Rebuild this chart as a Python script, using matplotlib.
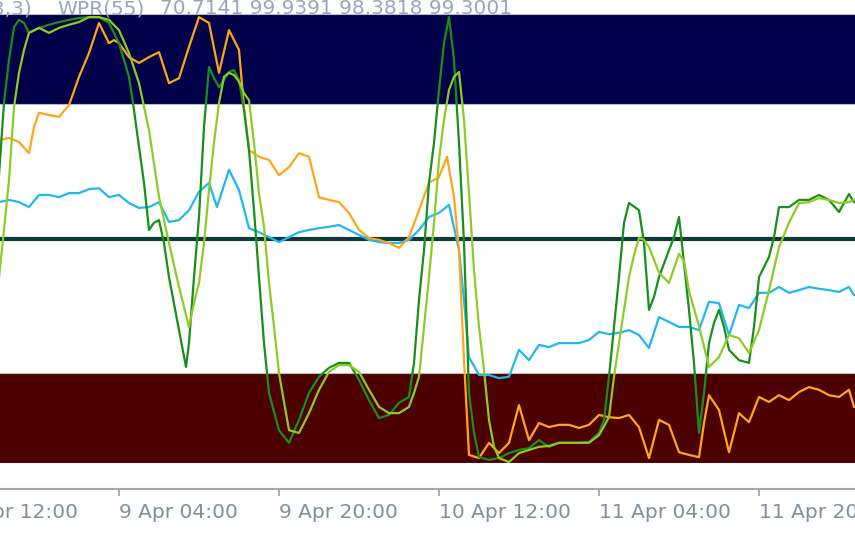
import matplotlib
matplotlib.use("Agg")
import matplotlib.pyplot as plt

# hours since 8 Apr 16:00 and indicator values (0..100)
orange_t = [0, 1, 2, 3, 3.5, 4, 5, 6, 7, 8, 9, 10, 11, 11.5, 12, 13, 14, 15, 16, 17, 18, 19, 20, 21, 21.5, 22,
            23, 24, 24.5, 25, 26, 27, 28, 29, 30, 31, 32, 33, 34, 35, 36, 37, 38, 39, 40, 41, 42, 43, 44, 44.8,
            45.5, 46, 46.5, 47, 48, 49, 50, 51, 52, 53, 54, 55, 56, 57, 58, 59, 60, 61, 62, 63, 64, 65, 66, 67,
            68, 69, 70, 70.5, 71, 72, 73, 74, 75, 76, 77, 78, 79, 80, 81, 82, 83, 84, 85, 85.5]
orange_v = [71.9, 72.4, 71.5, 69.0, 74.8, 78.0, 77.5, 77.1, 79.7, 86.0, 91.3, 98.0, 93.5, 94.2, 93.5, 90.4, 89.1,
            90.4, 91.5, 84.6, 85.7, 92.7, 99.3, 98.0, 92.4, 86.9, 96.4, 92.0, 79.3, 69.7, 68.2, 67.5, 64.1, 65.9,
            69.0, 68.2, 59.2, 58.6, 58.1, 55.7, 51.9, 50.1, 49.7, 49.0, 47.9, 50.3, 56.3, 62.4, 63.7, 68.2, 59.2,
            47.4, 22.9, 1.8, 1.1, 4.5, 2.2, 4.5, 12.9, 5.1, 8.9, 8.0, 8.5, 8.5, 7.8, 8.5, 10.7, 10.2, 10.0, 10.7,
            8.0, 1.1, 9.6, 8.5, 2.4, 1.8, 1.3, 8.9, 15.1, 11.8, 2.4, 11.1, 9.1, 14.7, 13.6, 15.1, 14.0, 15.8,
            16.9, 16.3, 15.1, 14.7, 16.3, 12.5]

blue_t = [0, 1, 2, 3, 4, 5, 6, 7, 8, 9, 10, 11, 12, 13, 14, 15, 16, 17, 18, 19, 20, 21, 21.8, 23, 24, 25, 26,
          27, 28, 29, 30, 31, 32, 33, 34, 35, 36, 37, 38, 39, 40, 41, 42, 43, 44, 45, 46, 46.5, 47, 48, 49, 50,
          51, 52, 53, 54, 55, 56, 57, 58, 59, 60, 61, 62, 63, 64, 65, 66, 67, 68, 69, 70, 71, 72, 73, 74, 75,
          76, 77, 78, 79, 80, 81, 82, 83, 84, 85, 85.5]
blue_v = [58.1, 58.6, 58.1, 57.0, 59.7, 59.7, 59.2, 60.1, 60.1, 61.0, 61.2, 59.2, 59.7, 57.9, 56.8, 57.0, 58.1,
          53.7, 54.1, 56.3, 60.4, 62.4, 57.0, 65.3, 60.8, 52.3, 51.4, 50.3, 49.2, 50.3, 51.4, 51.9, 52.3, 52.6,
          53.0, 51.9, 50.8, 49.7, 49.2, 49.0, 49.0, 49.7, 51.9, 54.8, 55.7, 57.5, 47.4, 36.3, 23.6, 19.6, 19.6,
          18.9, 19.2, 25.2, 22.9, 26.3, 25.8, 26.7, 26.7, 26.7, 27.4, 29.2, 28.7, 29.0, 29.6, 28.5, 25.6, 32.5,
          31.4, 30.3, 30.3, 29.6, 35.9, 35.6, 28.5, 35.2, 34.5, 37.9, 37.9, 39.2, 37.9, 38.5, 39.2, 38.8, 38.5,
          38.1, 39.2, 37.4]

dgreen_t = [0, 0.5, 1, 1.5, 2, 2.5, 3, 4, 5, 6, 7, 8, 9, 10, 11, 12, 13, 13.5, 14, 14.5, 15, 15.5, 16, 16.5,
            17, 18, 18.7, 19, 19.5, 20, 20.5, 21, 21.5, 22, 23, 23.5, 24, 24.5, 25, 25.5, 26, 26.5, 27, 28, 29,
            30, 31, 32, 33, 34, 35, 36, 37, 38, 39, 40, 41, 41.5, 42, 42.5, 43, 43.5, 44, 44.5, 45, 45.5, 46,
            46.5, 47, 47.5, 48, 49, 50, 51, 52, 53, 54, 55, 56, 57, 58, 59, 60, 60.5, 61, 61.5, 62, 62.5, 63,
            64, 64.5, 65, 65.5, 66, 67, 67.5, 68, 68.5, 69, 69.5, 70, 70.5, 71, 71.5, 72, 72.5, 73, 74, 75,
            75.5, 76, 77, 77.5, 78, 79, 80, 81, 82, 83, 84, 85, 85.5]
dgreen_v = [64.1, 80.2, 89.8, 97.1, 98.7, 98.0, 95.8, 96.9, 97.6, 98.2, 98.7, 99.1, 99.3, 99.3, 98.0, 93.5,
            86.0, 78.6, 70.4, 62.4, 51.9, 53.5, 54.1, 49.0, 41.4, 29.6, 21.4, 26.7, 41.4, 54.8, 74.8, 88.2,
            85.7, 83.7, 87.1, 87.5, 85.3, 78.6, 69.7, 56.3, 41.4, 26.7, 15.6, 7.3, 4.5, 9.6, 15.6, 19.2, 21.2,
            22.3, 22.3, 18.5, 14.0, 10.0, 10.7, 13.4, 14.7, 22.3, 36.3, 47.4, 62.4, 71.3, 83.1, 93.5, 99.3,
            89.8, 71.3, 49.0, 15.6, 6.7, 1.3, 0.7, 1.1, 2.2, 2.9, 3.3, 5.1, 3.6, 4.5, 4.5, 4.5, 4.7, 6.7, 9.6,
            19.2, 30.3, 41.4, 53.5, 57.9, 56.3, 49.0, 34.1, 37.0, 41.4, 47.4, 50.3, 54.8, 44.5, 34.1, 22.3,
            6.7, 15.6, 26.7, 31.2, 34.1, 30.3, 25.2, 22.9, 22.3, 30.3, 41.4, 45.9, 50.3, 57.0, 57.0, 58.6,
            58.6, 59.7, 58.6, 55.9, 59.9, 58.1]

lgreen_t = [0, 0.5, 1, 1.5, 2, 2.5, 3, 4, 5, 6, 7, 8, 9, 10, 11, 12, 13, 14, 15, 16, 17, 18, 19, 19.5, 20,
            20.5, 21, 21.5, 22, 22.5, 23, 23.5, 24, 24.5, 25, 25.5, 26, 26.5, 27, 27.5, 28, 29, 30, 31, 32, 33,
            34, 35, 36, 37, 38, 39, 40, 41, 41.5, 42, 42.5, 43, 43.5, 44, 44.5, 45, 45.5, 46, 46.5, 47, 47.5,
            48, 48.5, 49, 49.5, 50, 51, 52, 53, 54, 55, 56, 57, 58, 59, 60, 61, 61.5, 62, 63, 63.5, 64, 64.5,
            65, 66, 67, 68, 68.5, 69, 70, 71, 72, 73, 74, 75, 76, 77, 78, 79, 80, 81, 82, 83, 84, 85, 85.5]
lgreen_v = [41.4, 51.9, 63.0, 79.3, 86.9, 92.0, 95.8, 96.9, 95.8, 96.9, 97.6, 98.2, 99.3, 99.3, 98.7, 96.4,
            91.3, 84.6, 74.2, 59.2, 49.0, 39.2, 30.3, 35.6, 40.1, 49.0, 60.8, 71.3, 80.2, 86.0, 86.9, 86.4,
            84.9, 82.4, 80.8, 71.3, 60.1, 52.6, 40.1, 30.3, 20.0, 7.3, 6.7, 11.1, 16.3, 20.3, 21.8, 21.8, 20.3,
            16.3, 12.5, 11.1, 11.1, 12.5, 15.6, 19.2, 30.3, 41.4, 53.5, 67.5, 76.4, 83.1, 86.0, 87.1, 76.4,
            60.1, 43.0, 30.3, 20.7, 9.6, 3.6, 1.1, 0.2, 2.2, 2.9, 3.6, 3.8, 4.5, 4.5, 4.5, 4.5, 6.2, 10.2,
            19.2, 26.7, 41.4, 46.3, 50.1, 49.7, 48.1, 42.4, 40.1, 46.6, 45.0, 38.3, 30.5, 21.4, 23.6, 28.5,
            27.8, 24.5, 29.6, 38.5, 48.1, 53.5, 57.9, 58.1, 59.0, 58.6, 57.9, 58.1, 58.6]

tick_pos = [-4, 12, 28, 44, 60, 76]
tick_lbl = ["8 Apr 12:00", "9 Apr 04:00", "9 Apr 20:00", "10 Apr 12:00", "11 Apr 04:00", "11 Apr 20:00"]

fig = plt.figure(figsize=(8.55, 5.34), dpi=100)
ax = fig.add_axes([0, 1 - 463 / 534, 1, 449 / 534])
ax.set_xlim(0.1, 85.6)
ax.set_ylim(0, 100)

# overbought / oversold zones and middle level
ax.axhspan(80, 100, color="#00004a", lw=0)
ax.axhspan(0, 20, color="#4c0000", lw=0)
ax.axhline(50, color="#0f3a3a", lw=3)
for lvl in (100, 80, 20, 0):
    ax.axhline(lvl, color="#b8b8c8", lw=0.8)

ax.plot(blue_t, blue_v, color="#1fb8f0", lw=1.6)
ax.plot(orange_t, orange_v, color="#ffa51c", lw=1.6)
ax.plot(dgreen_t, dgreen_v, color="#17901a", lw=1.6)
ax.plot(lgreen_t, lgreen_v, color="#8fcb24", lw=1.6)

for s in ("left", "right", "top"):
    ax.spines[s].set_visible(False)
ax.spines["bottom"].set_position(("outward", 19))
ax.spines["bottom"].set_color("#a8a8a8")
ax.spines["bottom"].set_linewidth(1.5)
ax.set_yticks([])
ax.set_xticks(tick_pos[1:])
ax.set_xticklabels([])
ax.tick_params(axis="x", direction="out", length=5, width=1.3, color="#a8a8a8")

for p, lbl in zip(tick_pos, tick_lbl):
    ax.text(p, -49 / 449, lbl, transform=ax.get_xaxis_transform(), ha="left", va="center",
            fontsize=14.5, color="#7e8fa3")

# indicator header
hdr_y = 1 - 9 / 534
fig.text(32 / 855, hdr_y, "(3,3)", ha="right", va="center", fontsize=14.5, color="#9aa6b8")
fig.text(57 / 855, hdr_y, "WPR(55)", ha="left", va="center", fontsize=14.5, color="#9aa6b8")
fig.text(160 / 855, hdr_y, "70.7141 99.9391 98.3818 99.3001", ha="left", va="center",
         fontsize=14.5, color="#9aa6b8")

fig.savefig("out.png", dpi=100)
